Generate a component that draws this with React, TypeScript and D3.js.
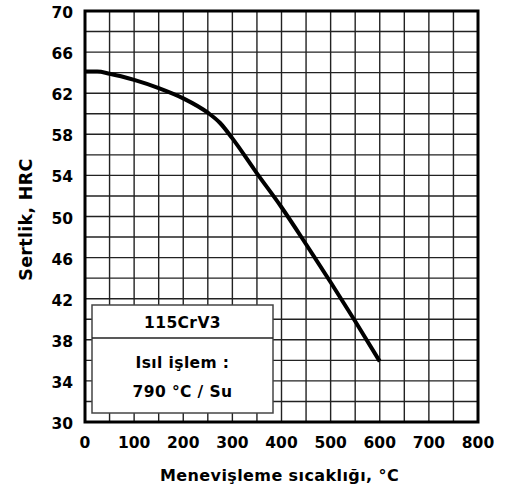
import React, { useEffect, useRef } from 'react';
import * as d3 from 'd3';

// tempering curve
const temps = [0, 25, 50, 100, 150, 200, 250, 275, 300, 350, 400, 450, 500, 550, 600];
const hardness = [64.1, 64.1, 63.9, 63.3, 62.5, 61.5, 60.1, 59.1, 57.6, 54.2, 50.9, 47.3, 43.6, 39.8, 35.9];

const xTicks = [0, 100, 200, 300, 400, 500, 600, 700, 800];
const yTicks = [30, 34, 38, 42, 46, 50, 54, 58, 62, 66, 70];
const legendLines = ['115CrV3', 'Isıl işlem :', '790 °C / Su'];

const W = 513;
const H = 490;
const margin = { top: 11, right: 35, bottom: 68, left: 85 };
const FONT = '"DejaVu Sans", Verdana, sans-serif';

const App: React.FC = () => {
    const svgRef = useRef<SVGSVGElement>(null);

    useEffect(() => {
        if (!svgRef.current) return;
        const svg = d3.select(svgRef.current);
        svg.selectAll('*').remove();

        const x = d3.scaleLinear().domain([0, 800]).range([margin.left, W - margin.right]);
        const y = d3.scaleLinear().domain([30, 70]).range([H - margin.bottom, margin.top]);

        const grid = svg.append('g').attr('stroke', '#222').attr('stroke-width', 1.4);
        d3.range(50, 800, 50).forEach(t => {
            grid.append('line')
                .attr('x1', x(t)).attr('x2', x(t))
                .attr('y1', y(30)).attr('y2', y(70));
        });
        d3.range(32, 70, 2).forEach(v => {
            grid.append('line')
                .attr('x1', x(0)).attr('x2', x(800))
                .attr('y1', y(v)).attr('y2', y(v));
        });

        // legend box
        const bx = x(0) + 7, by = 305, bw = 181, bh = 108;
        const lg = svg.append('g');
        lg.append('rect')
            .attr('x', bx).attr('y', by).attr('width', bw).attr('height', bh)
            .attr('fill', '#fff').attr('stroke', '#444').attr('stroke-width', 1.5);
        lg.append('line')
            .attr('x1', bx).attr('x2', bx + bw)
            .attr('y1', by + 33).attr('y2', by + 33)
            .attr('stroke', '#222').attr('stroke-width', 1.5);
        const ly = [by + 22.5, by + 63, by + 91.5];
        legendLines.forEach((s, i) => {
            lg.append('text')
                .attr('x', bx + bw / 2).attr('y', ly[i])
                .attr('text-anchor', 'middle')
                .attr('font-family', FONT).attr('font-weight', 'bold').attr('font-size', 15.5)
                .attr('letter-spacing', 0.4)
                .text(s);
        });

        const line = d3.line<number>()
            .x((_, i) => x(temps[i]))
            .y(d => y(d))
            .curve(d3.curveMonotoneX);
        svg.append('path')
            .datum(hardness)
            .attr('d', line)
            .attr('fill', 'none')
            .attr('stroke', '#000')
            .attr('stroke-width', 4);

        svg.append('rect')
            .attr('x', x(0)).attr('y', y(70))
            .attr('width', x(800) - x(0)).attr('height', y(30) - y(70))
            .attr('fill', 'none').attr('stroke', '#000').attr('stroke-width', 3);

        const tickText = svg.append('g')
            .attr('font-family', FONT).attr('font-weight', 'bold').attr('font-size', 15.5);
        yTicks.forEach(v => {
            tickText.append('text')
                .attr('x', x(0) - 12).attr('y', y(v) + 7)
                .attr('text-anchor', 'end')
                .text(v);
        });
        xTicks.forEach(t => {
            tickText.append('text')
                .attr('x', x(t)).attr('y', y(30) + 26)
                .attr('text-anchor', 'middle')
                .text(t);
        });

        svg.append('text')
            .attr('transform', `translate(32, ${(y(30) + y(70)) / 2 + 3}) rotate(-90)`)
            .attr('text-anchor', 'middle')
            .attr('font-family', FONT).attr('font-weight', 'bold').attr('font-size', 17.5)
            .attr('letter-spacing', 0.3)
            .text('Sertlik, HRC');

        svg.append('text')
            .attr('x', (x(0) + x(800)) / 2 - 2).attr('y', 481)
            .attr('text-anchor', 'middle')
            .attr('font-family', FONT).attr('font-weight', 'bold').attr('font-size', 16)
            .attr('letter-spacing', 0.4)
            .text('Menevişleme sıcaklığı, °C');
    }, []);

    return (
        <div style={{ position: 'absolute', left: 0, top: 0 }}>
            <svg ref={svgRef} width={W} height={H} style={{ display: 'block', background: '#fff' }} />
        </div>
    );
};

export default App;
